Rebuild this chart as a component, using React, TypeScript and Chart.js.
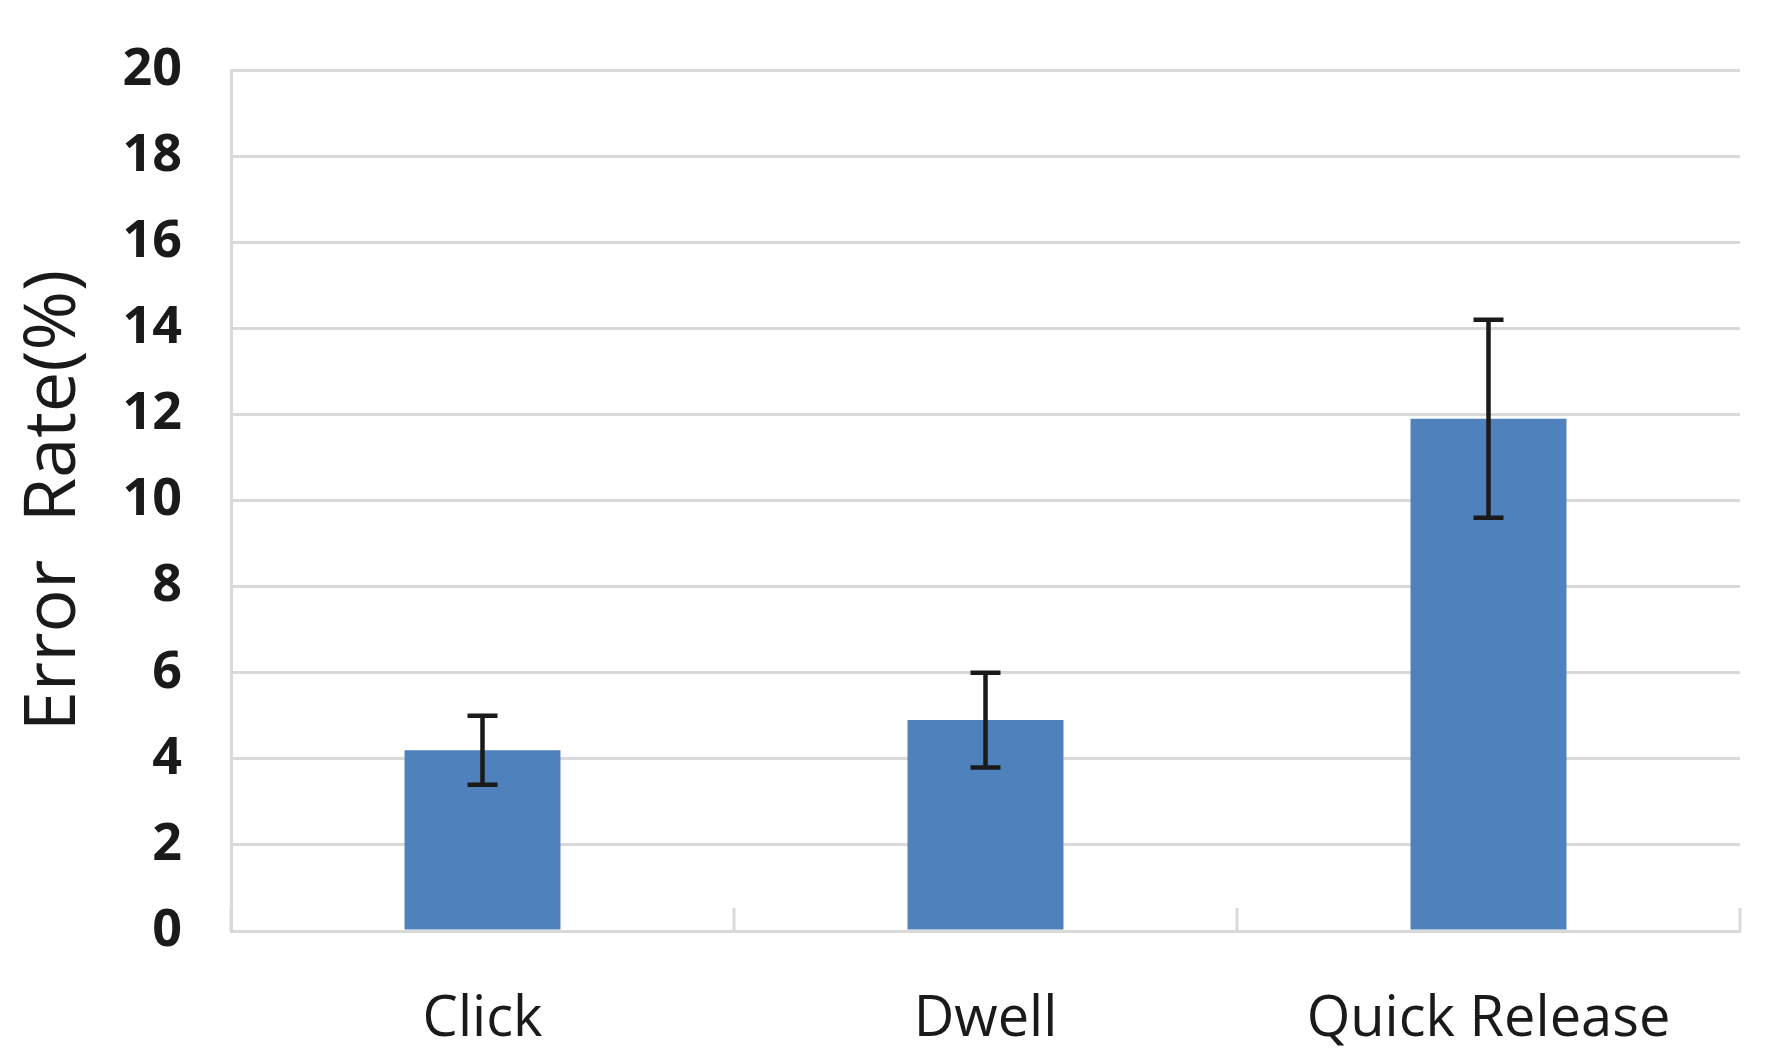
import React, { useEffect, useRef } from "react";
import { Chart, registerables } from "chart.js";

Chart.register(...registerables);

const categories = ["Click", "Dwell", "Quick Release"];
const errorRates = [4.2, 4.9, 11.9];
const errorMargins = [0.8, 1.1, 2.3];
const yTickValues = [0, 2, 4, 6, 8, 10, 12, 14, 16, 18, 20];

const GRID = "#d9d9d9";
const FONT = "'Open Sans', 'Noto Sans', sans-serif";

const errorBarPlugin = {
  id: "errorBars",
  afterDatasetsDraw(chart: any) {
    const meta = chart.getDatasetMeta(0);
    const yScale = chart.scales.y;
    const ctx = chart.ctx;
    ctx.save();
    ctx.strokeStyle = "#1a1a1a";
    ctx.lineWidth = 4.5;
    const cap = 15;
    meta.data.forEach((bar: any, i: number) => {
      const x = bar.x;
      const yT = yScale.getPixelForValue(errorRates[i] + errorMargins[i]);
      const yB = yScale.getPixelForValue(errorRates[i] - errorMargins[i]);
      ctx.beginPath();
      ctx.moveTo(x, yT);
      ctx.lineTo(x, yB);
      ctx.moveTo(x - cap, yT);
      ctx.lineTo(x + cap, yT);
      ctx.moveTo(x - cap, yB);
      ctx.lineTo(x + cap, yB);
      ctx.stroke();
    });
    ctx.restore();
  },
};

const innerTicksPlugin = {
  id: "innerTicks",
  afterDraw(chart: any) {
    const xScale = chart.scales.x;
    const ctx = chart.ctx;
    const bottom = chart.chartArea.bottom;
    ctx.save();
    ctx.strokeStyle = GRID;
    ctx.lineWidth = 3;
    for (let i = 0; i <= categories.length; i++) {
      const x = xScale.getPixelForValue(i - 0.5);
      ctx.beginPath();
      ctx.moveTo(x, bottom - 23);
      ctx.lineTo(x, bottom);
      ctx.stroke();
    }
    ctx.restore();
  },
};

export default function App() {
  const canvasRef = useRef<HTMLCanvasElement | null>(null);

  useEffect(() => {
    document.body.style.margin = "0";
    const canvas = canvasRef.current;
    if (!canvas) return;
    const chart = new Chart(canvas, {
      type: "bar",
      data: {
        labels: categories,
        datasets: [
          {
            data: errorRates,
            backgroundColor: "#4f81bd",
            borderWidth: 0,
            barPercentage: 0.31,
            categoryPercentage: 1,
          },
        ],
      },
      options: {
        animation: false,
        responsive: true,
        maintainAspectRatio: false,
        layout: { padding: { top: 70, right: 47, left: 0, bottom: 0 } },
        plugins: {
          legend: { display: false },
          tooltip: { enabled: false },
        },
        scales: {
          x: {
            grid: { display: false },
            border: { display: true, color: GRID, width: 3 },
            ticks: {
              color: "#1a1a1a",
              padding: 47,
              font: { family: FONT, size: 56, weight: "normal" },
            },
            afterFit(scale: any) {
              scale.height = 131;
            },
          },
          y: {
            min: 0,
            max: 20,
            afterBuildTicks(scale: any) {
              scale.ticks = yTickValues.map((v) => ({ value: v }));
            },
            grid: { color: GRID, lineWidth: 3, drawTicks: false },
            border: { display: true, color: GRID, width: 3 },
            ticks: {
              color: "#1a1a1a",
              padding: 49,
              font: { family: FONT, size: 52, weight: "bold" },
            },
            title: {
              display: true,
              text: "Error  Rate(%)",
              color: "#1a1a1a",
              padding: { top: 11, bottom: 0 },
              font: { family: FONT, size: 72, weight: "normal" },
            },
            afterFit(scale: any) {
              scale.width = 231;
              scale.paddingTop = 0;
              scale.paddingBottom = 0;
            },
          },
        },
      },
      plugins: [errorBarPlugin, innerTicksPlugin],
    });
    return () => chart.destroy();
  }, []);

  return (
    <div style={{ position: "absolute", left: 0, top: 0, width: 1787, height: 1062, background: "#fff" }}>
      <canvas ref={canvasRef} />
    </div>
  );
}
